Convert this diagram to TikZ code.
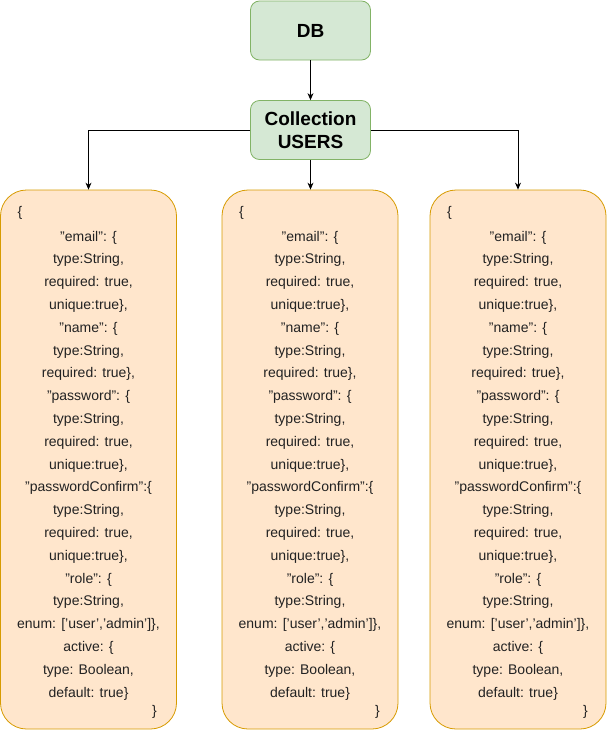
\documentclass[tikz,border=0pt]{standalone}
\usepackage{fontspec}
\setmainfont{Liberation Sans}
\usetikzlibrary{arrows.meta}
\definecolor{gfill}{HTML}{D5E8D4}
\definecolor{gline}{HTML}{82B366}
\definecolor{ofill}{HTML}{FFE6CC}
\definecolor{oline}{HTML}{D79B00}
\definecolor{txt}{HTML}{222222}
\newcommand{\sq}{\symbol{39}}
\newcommand{\schematext}{%
"email": \{\\
type:String,\\
required: true,\\
unique:true\},\\
"name": \{\\
type:String,\\
required: true\},\\
"password": \{\\
type:String,\\
required: true,\\
unique:true\},\\
"passwordConfirm":\{\\
type:String,\\
required: true,\\
unique:true\},\\
"role": \{\\
type:String,\\
enum: [\sq user\sq,\sq admin\sq]\},\\
active: \{\\
type: Boolean,\\
default: true\}}
\begin{document}
\begin{tikzpicture}[x=1pt,y=-1pt,
  greenbox/.style={draw=gline,fill=gfill,rounded corners=9pt,minimum width=120pt,minimum height=59pt,
    font={\fontsize{19pt}{23pt}\selectfont\bfseries},align=center,text=black,line width=0.8pt},
  docbox/.style={draw=oline,fill=ofill,rounded corners=26pt,minimum width=176pt,minimum height=539pt,line width=0.8pt},
  bodytext/.style={font={\fontsize{14pt}{22.8pt}\selectfont},align=center,text=txt,inner sep=0pt},
  bracetext/.style={font={\fontsize{14pt}{16pt}\selectfont},text=txt,inner sep=0pt},
  link/.style={draw=black,line width=0.8pt,-{Stealth[length=7pt,width=6pt]}}]
\useasboundingbox (0,0) rectangle (607,731);
\node[greenbox] (db) at (310.5,30.5) {DB};
\node[greenbox] (coll) at (310.5,130) {Collection\\USERS};
\node[docbox] (b1) at (88.5,459.5) {};
\node[docbox] (b2) at (310,459.5) {};
\node[docbox] (b3) at (518,459.5) {};
\foreach \b/\cx/\r in {b1/88.5/157,b2/310/380,b3/518/588}{
  \node[bodytext] (\b t) at (\cx,465.5) {\schematext};
  \node[bracetext,anchor=west] (\b o) at (\cx-71,213) {\{};
  \node[bracetext,anchor=east] (\b c) at (\r,712) {\}};
}
\draw[link] (db) -- (coll);
\draw[link] (coll.south) -- (coll.south |- b2.north);
\draw[link] (coll.west) -| (b1.north);
\draw[link] (coll.east) -| (b3.north);
\end{tikzpicture}
\end{document}
